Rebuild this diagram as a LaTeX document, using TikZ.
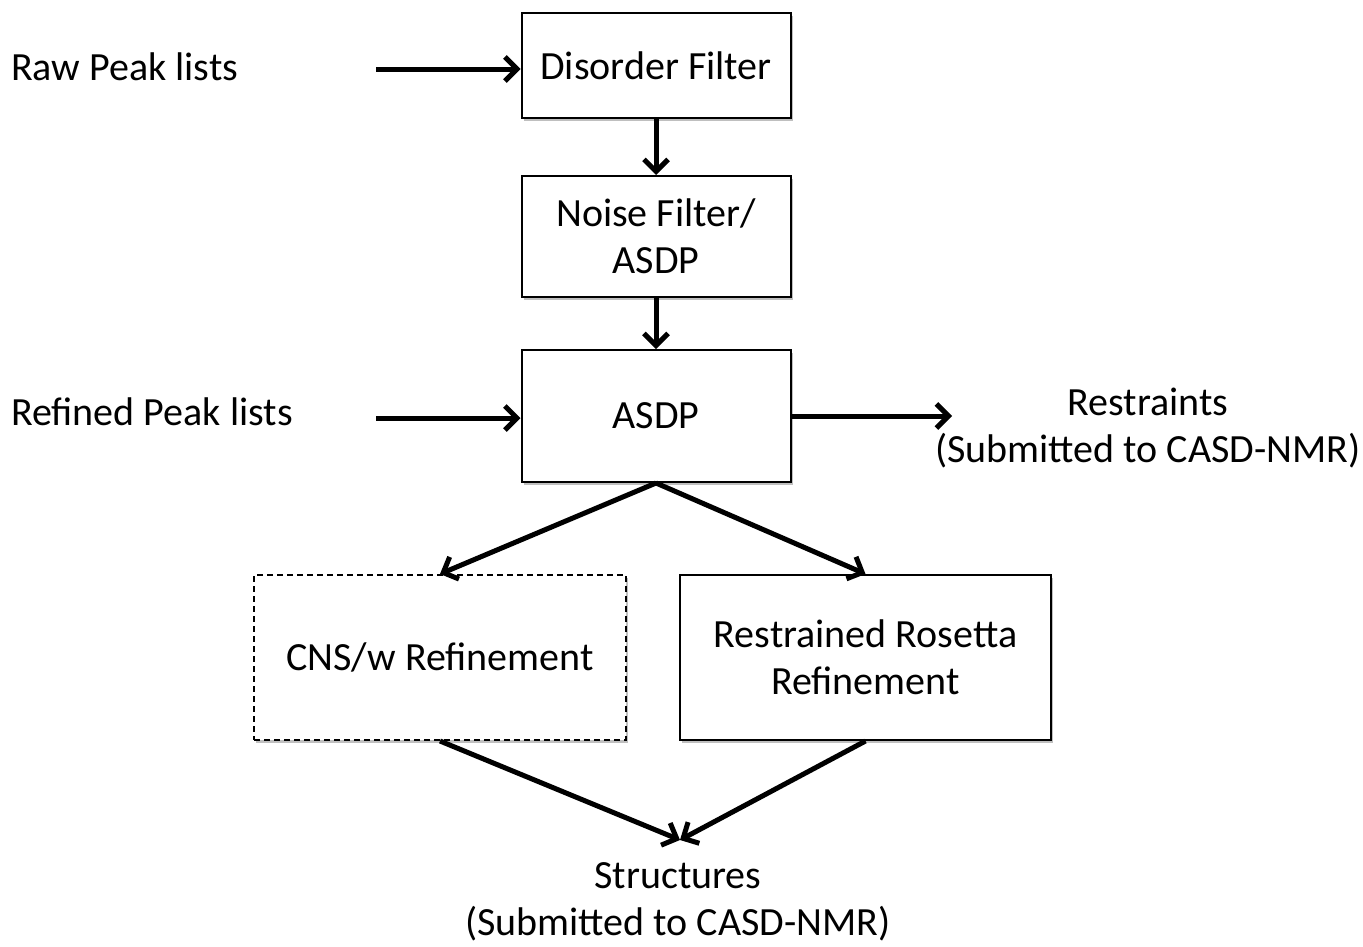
\documentclass[tikz,border=0pt]{standalone}
\usepackage{fontspec}
\setmainfont{Carlito}
\usetikzlibrary{arrows.meta,shadows}
\begin{document}
\begin{tikzpicture}[x=1pt,y=-1pt,
  every node/.style={font=\fontsize{40}{47}\selectfont, text=black},
  box/.style={draw=black, line width=2pt, fill=white, align=center, inner sep=0pt,
    drop shadow={shadow xshift=2pt, shadow yshift=-3pt, opacity=0.25, fill=black}},
  dbox/.style={box, dashed, dash pattern=on 6pt off 4pt},
  arr/.style={line width=5pt, -{Straight Barb[length=12pt,width=24pt,line width=5pt]}},
  lbl/.style={inner sep=0pt, align=center}]
\useasboundingbox (0,0) rectangle (1363,946);
\node[box, minimum width=269pt, minimum height=105pt] (dis) at (656,65.5) {Disorder Filter};
\node[box, minimum width=269pt, minimum height=121pt] (noise) at (656,236.5) {Noise Filter/\\ASDP};
\node[box, minimum width=269pt, minimum height=132pt] (asdp) at (656,416) {ASDP};
\node[dbox, minimum width=372pt, minimum height=165pt] (cns) at (440,657.5) {CNS/w Refinement};
\node[box, minimum width=371pt, minimum height=165pt] (ros) at (865.5,657.5) {Restrained Rosetta\\Refinement};
\node[lbl, anchor=west] (raw) at (11,67) {Raw Peak lists};
\node[lbl, anchor=west] (ref) at (11,412) {Refined Peak lists};
\node[lbl] (restr) at (1148,428) {Restraints\\(Submitted to CASD-NMR)};
\node[lbl] (struct) at (678,902) {Structures\\(Submitted to CASD-NMR)};
\coordinate (rawstart) at (376,69);
\coordinate (refstart) at (376,418);
\coordinate (restrend) at (952,416);
\coordinate (meet) at (680,840);
\draw[arr] (rawstart) -- (rawstart -| dis.west);
\draw[arr] (refstart) -- (refstart -| asdp.west);
\draw[arr] (asdp.east) -- (restrend);
\draw[arr] (dis.south) -- (noise.north);
\draw[arr] (noise.south) -- (asdp.north);
\draw[arr] (asdp.south) -- (cns.north);
\draw[arr] (asdp.south) -- (ros.north);
\draw[arr] (cns.south) -- (meet);
\draw[arr] (ros.south) -- (meet);
\end{tikzpicture}
\end{document}
